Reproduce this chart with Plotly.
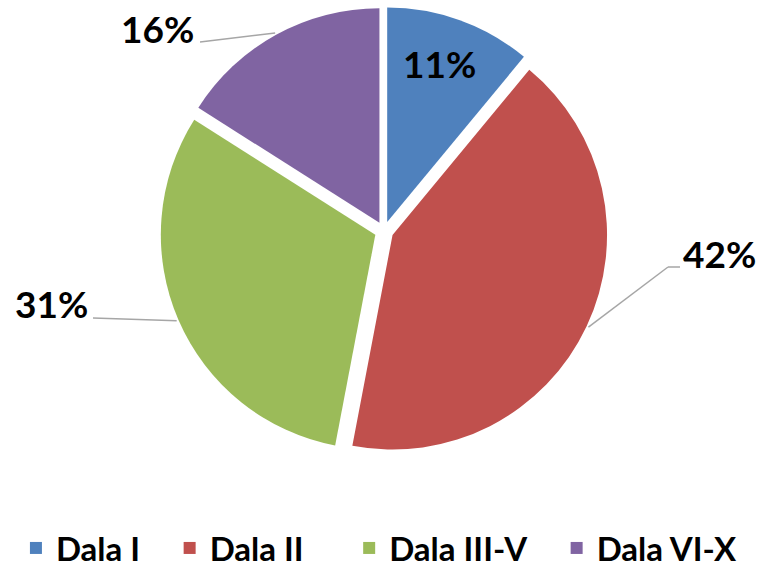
import math
import plotly.graph_objects as go

# ---- data ----
categories = ["Dala I", "Dala II", "Dala III-V", "Dala VI-X"]
values = [11, 42, 31, 16]

# ---- style ----
colors = ["#4F81BD", "#C0504D", "#9BBB59", "#8064A2"]
W, H = 761, 568
CX, CY = 384, 231          # pie centre (px)
R = 214.5                  # pie radius (px)
PULL = 0.044
FONT = "Lato"
# extra spacing after each legend entry
LEG_PAD = ["\u2002\u00a0", "\u2002\u00a0\u00a0\u00a0", "\u2002\u00a0", ""]

# label placement (px): text centre, elbow points of leader (after the pie point)
label_style = {
    "Dala I": dict(text=(439, 63), leader=None),
    "Dala II": dict(text=(719, 254), leader=[(668, 267), (680, 267)]),
    "Dala III-V": dict(text=(51, 303), leader=[(93, 318)]),
    "Dala VI-X": dict(text=(157, 28), leader=[(200, 42)]),
}

def px(x, y):
    return x / W, 1 - y / H

half = R * (1 + PULL)
legend_labels = [c + p for c, p in zip(categories, LEG_PAD)]

fig = go.Figure()
fig.add_trace(go.Pie(
    labels=legend_labels, values=values, sort=False, direction="clockwise", rotation=0,
    marker=dict(colors=colors, line=dict(width=0)),
    pull=PULL, textinfo="none", hovertext=categories, hoverinfo="text+percent",
    domain=dict(x=[(CX - half) / W, (CX + half) / W],
                y=[1 - (CY + half) / H, 1 - (CY - half) / H]),
))

total = sum(values)
cum = 0
for cat, v in zip(categories, values):
    frac = v / total
    mid = (cum + frac / 2) * 2 * math.pi  # clockwise from top
    cum += frac
    st = label_style[cat]
    tx, ty = px(*st["text"])
    fig.add_annotation(x=tx, y=ty, xref="paper", yref="paper", showarrow=False,
                       text=f"{round(frac * 100)}%", xanchor="center", yanchor="middle",
                       font=dict(family=FONT, size=37, color="black", weight="bold"))
    if st["leader"]:
        r = R * (1 + PULL) + 2
        pts = [(CX + r * math.sin(mid), CY - r * math.cos(mid))] + st["leader"]
        for (x0, y0), (x1, y1) in zip(pts[:-1], pts[1:]):
            a0, b0 = px(x0, y0)
            a1, b1 = px(x1, y1)
            fig.add_shape(type="line", xref="paper", yref="paper",
                          x0=a0, y0=b0, x1=a1, y1=b1,
                          line=dict(color="#A6A6A6", width=1.5))

fig.update_layout(
    width=W, height=H, paper_bgcolor="white", plot_bgcolor="white",
    margin=dict(l=0, r=0, t=0, b=0, autoexpand=False),
    showlegend=True,
    legend=dict(orientation="h", x=0.4986, xanchor="center", y=1 - 548 / H, yanchor="middle",
                font=dict(family=FONT, size=33, color="black", weight="bold"),
                traceorder="normal"),
)
fig.write_html("out.html", config={"displayModeBar": False},
               post_script="document.body.style.margin='0';document.body.style.overflow='hidden';")
